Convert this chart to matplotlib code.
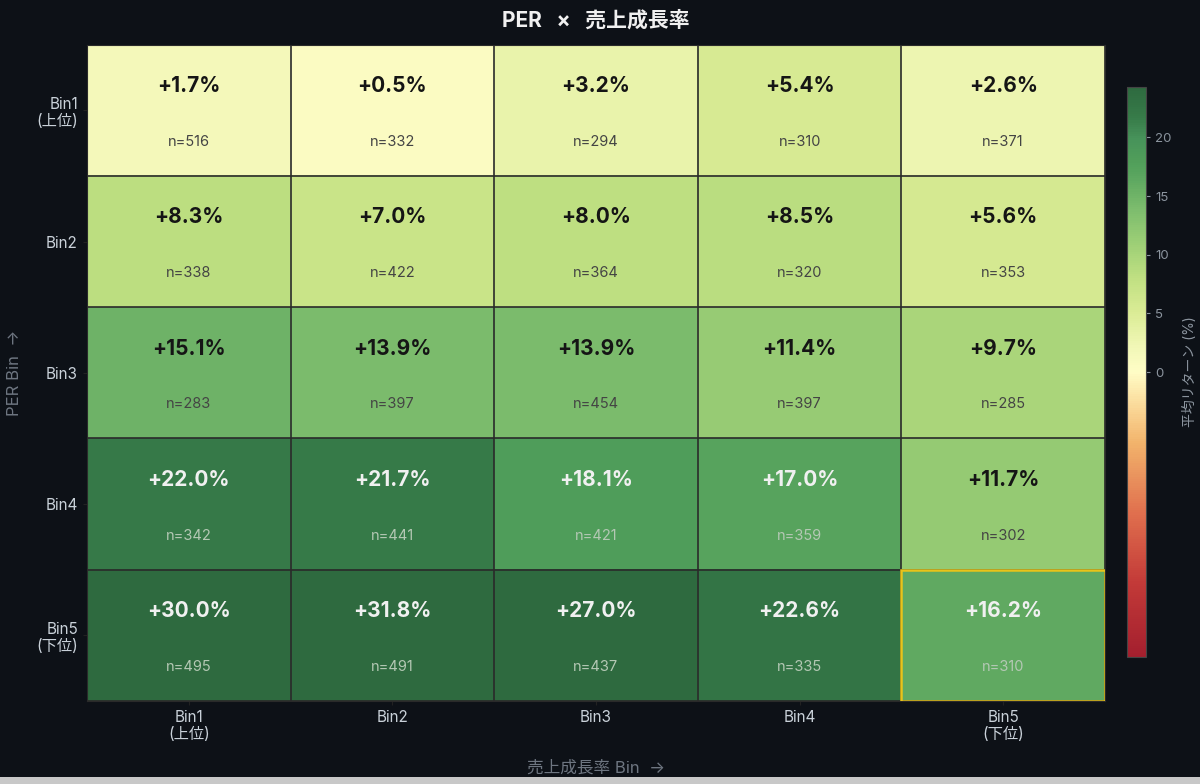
import matplotlib
matplotlib.use("Agg")
import matplotlib.pyplot as plt
import matplotlib.patches as mpatches
from matplotlib.colors import LinearSegmentedColormap
import numpy as np

plt.rcParams['font.family'] = ['Inter', 'Noto Sans CJK JP', 'DejaVu Sans']

row_labels = ['Bin1\n(上位)', 'Bin2', 'Bin3', 'Bin4', 'Bin5\n(下位)']
col_labels = ['Bin1\n(上位)', 'Bin2', 'Bin3', 'Bin4', 'Bin5\n(下位)']

mean_ret = np.array([
    [1.7, 0.5, 3.2, 5.4, 2.6],
    [8.3, 7.0, 8.0, 8.5, 5.6],
    [15.1, 13.9, 13.9, 11.4, 9.7],
    [22.0, 21.7, 18.1, 17.0, 11.7],
    [30.0, 31.8, 27.0, 22.6, 16.2],
])
counts = np.array([
    [516, 332, 294, 310, 371],
    [338, 422, 364, 320, 353],
    [283, 397, 454, 397, 285],
    [342, 441, 421, 359, 302],
    [495, 491, 437, 335, 310],
])
highlight = (4, 4)

BG = '#0d1117'
vlim = 24.3

# muted red-yellow-green ramp
cmap_nodes = [
    (-24.3, '#a31f2e'), (-18, '#c33a38'), (-12, '#e0704e'), (-6, '#f2b46c'),
    (-3, '#fad898'), (0, '#fffdc6'), (2, '#f2f8b8'), (5, '#dbec96'),
    (8, '#c0e082'), (11, '#9dcf76'), (14, '#7cbc6d'), (17, '#58a45e'),
    (18.1, '#509e5a'), (20, '#47925a'), (21.8, '#377b49'), (24.3, '#2e6a3f'),
]
cmap = LinearSegmentedColormap.from_list(
    'muted_rdylgn', [((v + vlim) / (2 * vlim), c) for v, c in cmap_nodes])

fig = plt.figure(figsize=(12, 7.84), dpi=100, facecolor=BG)
ax = fig.add_axes([0.0725, 0.106, 0.8483, 0.837])
cax = fig.add_axes([0.939, 0.162, 0.016, 0.727])
ax.set_facecolor(BG)

im = ax.imshow(mean_ret, cmap=cmap, vmin=-vlim, vmax=vlim, aspect='auto')

nr, nc = mean_ret.shape
for i in range(nr + 1):
    ax.axhline(i - 0.5, color='#2a2a2a', lw=1.2)
for j in range(nc + 1):
    ax.axvline(j - 0.5, color='#2a2a2a', lw=1.2)

for i in range(nr):
    for j in range(nc):
        v = mean_ret[i, j]
        dark = v >= 16
        ax.text(j, i - 0.185, f'{v:+.1f}%', ha='center', va='center',
                fontsize=15, fontweight='bold',
                color='#f0f0f0' if dark else '#151515')
        ax.text(j, i + 0.24, f'n={counts[i, j]}', ha='center', va='center',
                fontsize=10.5, color='#b4c8b4' if dark else '#444444')

hi, hj = highlight
ax.add_patch(mpatches.Rectangle((hj - 0.5, hi - 0.5), 1, 1, fill=False,
                                edgecolor='#e8c31a', lw=1.8, zorder=5))

ax.set_xticks(range(nc))
ax.set_xticklabels(col_labels, color='#c9d1d9', fontsize=11)
ax.set_yticks(range(nr))
ax.set_yticklabels(row_labels, color='#c9d1d9', fontsize=11)
ax.tick_params(length=3, color='#222222')
ax.set_xlim(-0.5, nc - 0.5)
ax.set_ylim(nr - 0.5, -0.5)
for s in ax.spines.values():
    s.set_color('#2a2a2a')

ax.set_xlabel('売上成長率 Bin  →', color='#6e7681', fontsize=12, labelpad=13)
ax.set_ylabel('PER Bin  →', color='#6e7681', fontsize=12, labelpad=10)
ax.set_title('PER   ×   売上成長率', color='#f0f0f0', fontsize=15,
             fontweight='bold', pad=13)

cb = fig.colorbar(im, cax=cax)
cb.set_ticks([0, 5, 10, 15, 20])
cb.ax.tick_params(colors='#8b949e', labelsize=9.5, length=3)
cb.outline.set_edgecolor('#444444')
cb.set_label('平均リターン (%)', color='#8b949e', fontsize=10, labelpad=8)

fig.patches.append(mpatches.Rectangle((0, 0), 1, 0.009, transform=fig.transFigure,
                                      facecolor='#c8c8c8', edgecolor='none'))

fig.savefig('out.png', dpi=100, facecolor=BG)
